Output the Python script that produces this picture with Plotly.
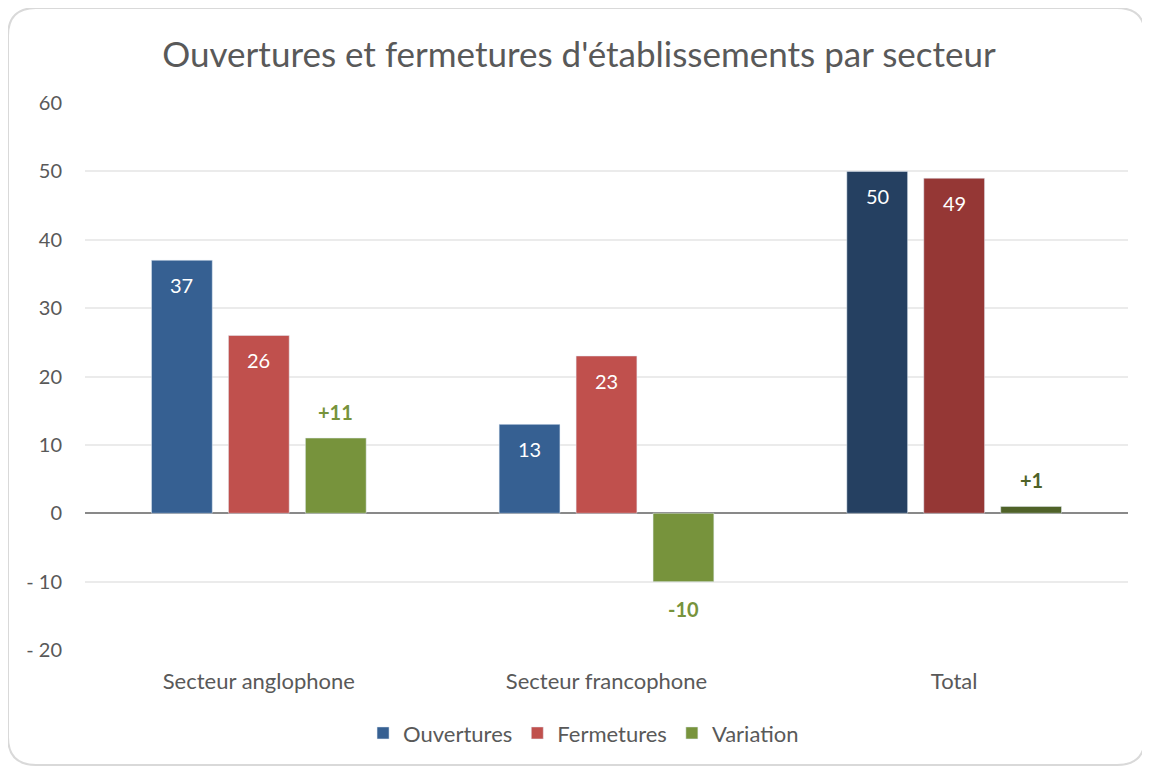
import plotly.graph_objects as go

# Data
secteurs = ["Secteur anglophone", "Secteur francophone", "Total"]
ouvertures = [37, 13, 50]
fermetures = [26, 23, 49]
variation = [11, -10, 1]
tick_vals = [-20, -10, 0, 10, 20, 30, 40, 50, 60]
tick_text = ["- 20", "- 10", "0", "10", "20", "30", "40", "50", "60"]

# Colours (the Total group is drawn in a darker shade)
blue = ["#366092", "#366092", "#254061"]
red = ["#C0504D", "#C0504D", "#953735"]
green = ["#77933C", "#77933C", "#4F6228"]

FONT = "Lato, 'Open Sans', sans-serif"
GREY = "#595959"
# the page body has an 8px margin, so the figure is a bit smaller than the window
W, H = 1142, 759
L, R, T, B = 77, 22, 95, 117
BARGAP, GROUPGAP = 0.336, 0.21


def px(x, y):
    # pixel -> paper coordinates, for the decorative frame
    return (x - L) / (W - L - R), (H - B - y) / (H - T - B)


def frame_path(x0, y0, x1, y1, r):
    def p(x, y):
        a, b = px(x, y)
        return f"{a:.5f},{b:.5f}"
    pts = [
        "M" + p(x0 + r, y0),
        "L" + p(x1 - r, y0),
        "Q" + p(x1, y0) + " " + p(x1, y0 + r),
        "L" + p(x1, y1 - r),
        "Q" + p(x1, y1) + " " + p(x1 - r, y1),
        "L" + p(x0 + r, y1),
        "Q" + p(x0, y1) + " " + p(x0, y1 - r),
        "L" + p(x0, y0 + r),
        "Q" + p(x0, y0) + " " + p(x0 + r, y0),
    ]
    return " ".join(pts) + " Z"


fig = go.Figure()
fig.add_trace(go.Bar(name="Ouvertures", x=secteurs, y=ouvertures, marker_color=blue))
fig.add_trace(go.Bar(name="Fermetures", x=secteurs, y=fermetures, marker_color=red))
fig.add_trace(go.Bar(name="Variation", x=secteurs, y=variation, marker_color=green))

# data labels: offset of each series inside its group, in pixels
cat_w = (W - L - R) / len(secteurs)
slot = cat_w * (1 - BARGAP) / 3
annotations = []
for k, (vals, fmt) in enumerate([(ouvertures, "{:d}"), (fermetures, "{:d}")]):
    for s, v in zip(secteurs, vals):
        annotations.append(dict(
            x=s, y=v, xref="x", yref="y", text=fmt.format(v), showarrow=False,
            xshift=(k - 1) * slot, yshift=-25, yanchor="middle",
            font=dict(color="white", size=20, family=FONT)))
for s, v, c in zip(secteurs, variation, green):
    annotations.append(dict(
        x=s, y=v, xref="x", yref="y", text=f"<b>{v:+d}</b>", showarrow=False,
        xshift=slot, yshift=26 if v >= 0 else -27, yanchor="middle",
        font=dict(color=c, size=20, family=FONT)))

fig.update_layout(
    width=W, height=H,
    margin=dict(l=L, r=R, t=T, b=B),
    paper_bgcolor="white", plot_bgcolor="white",
    barmode="group", bargap=BARGAP, bargroupgap=GROUPGAP,
    font=dict(family=FONT, color=GREY, size=20),
    title=dict(text="Ouvertures et fermetures d'établissements par secteur",
               x=0.5, xanchor="center", y=1 - 47 / H, yanchor="middle",
               font=dict(size=35, color=GREY, family=FONT)),
    showlegend=True,
    legend=dict(orientation="h", x=0.478, xanchor="center", y=-0.152, yanchor="middle",
                font=dict(size=22, color=GREY), traceorder="normal",
                itemwidth=30),
    xaxis=dict(showgrid=False, showline=False, ticks="", tickfont=dict(size=22, color=GREY),
               ticklabelstandoff=16),
    yaxis=dict(range=[-20, 60], tickvals=tick_vals, ticktext=tick_text,
               showgrid=True, gridcolor="#EBEBEB", gridwidth=1.5,
               zeroline=True, zerolinecolor="#898989", zerolinewidth=2,
               showline=False, ticks="", tickfont=dict(size=20, color=GREY),
               ticklabelstandoff=22),
    annotations=annotations,
    shapes=[dict(type="path", xref="paper", yref="paper",
                 path=frame_path(0, 0, 1137, 757, 28),
                 line=dict(color="#D9D9D9", width=2), layer="below")],
)

fig.write_html("out.html")
